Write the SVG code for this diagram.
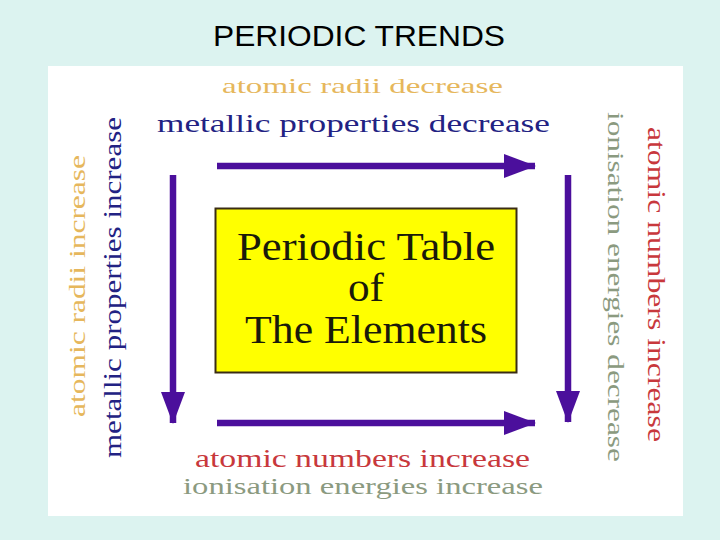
<svg xmlns="http://www.w3.org/2000/svg" width="720" height="540" viewBox="0 0 720 540">
<defs>
<marker id="ah" markerUnits="userSpaceOnUse" markerWidth="32" markerHeight="26" viewBox="0 0 32 26" refX="31" refY="13" orient="auto">
<path d="M0,1 L32,13 L0,25 Z" fill="#4b0f9c"/>
</marker>
<style>
.t{font-family:"Liberation Serif","Times New Roman",serif}
.arrow{stroke:#4b0f9c;stroke-width:6.5;fill:none;marker-end:url(#ah)}
.gold{fill:#e6b75c}
.navy{fill:#222283}
.red{fill:#c8383c}
.grey{fill:#8b9a80}
</style>
</defs>
<rect x="0" y="0" width="720" height="540" fill="#dcf3f0"/>
<text x="359" y="46" text-anchor="middle" font-family="Liberation Sans, Arial, sans-serif" font-size="30" textLength="292" lengthAdjust="spacingAndGlyphs" fill="#000">PERIODIC TRENDS</text>
<rect x="48" y="66" width="635" height="450" fill="#ffffff"/>
<g id="center">
<rect x="215.5" y="208.5" width="301" height="164" fill="#ffff00" stroke="#3a2c14" stroke-width="2"/>
<text class="t" transform="translate(366,260) scale(1.08,1)" text-anchor="middle" font-size="40" textLength="239" lengthAdjust="spacingAndGlyphs" fill="#1a1a0a">Periodic Table</text>
<text class="t" transform="translate(366,301) scale(1.08,1)" text-anchor="middle" font-size="40" fill="#1a1a0a">of</text>
<text class="t" transform="translate(366,343) scale(1.08,1)" text-anchor="middle" font-size="40" textLength="224" lengthAdjust="spacingAndGlyphs" fill="#1a1a0a">The Elements</text>
</g>
<g id="top-labels">
<text class="t gold" transform="translate(222,93) scale(1.5,1)" font-size="22" textLength="187.3" lengthAdjust="spacingAndGlyphs">atomic radii decrease</text>
<text class="t navy" transform="translate(157,132) scale(1.355,1)" font-size="26" textLength="290" lengthAdjust="spacingAndGlyphs">metallic properties decrease</text>
</g>
<g id="bottom-labels">
<text class="t red" transform="translate(195,467) scale(1.348,1)" font-size="25" textLength="248.5" lengthAdjust="spacingAndGlyphs">atomic numbers increase</text>
<text class="t grey" transform="translate(183,494) scale(1.416,1)" font-size="23" textLength="254.2" lengthAdjust="spacingAndGlyphs">ionisation energies increase</text>
</g>
<g id="left-labels">
<text class="t gold" transform="translate(85,417) rotate(-90) scale(1.31,1)" font-size="24" textLength="200" lengthAdjust="spacingAndGlyphs">atomic radii increase</text>
<text class="t navy" transform="translate(121,458) rotate(-90) scale(1.24,1)" font-size="25" textLength="275" lengthAdjust="spacingAndGlyphs">metallic properties increase</text>
</g>
<g id="right-labels">
<text class="t grey" transform="translate(608,112) rotate(90) scale(1.356,1)" font-size="23" textLength="258" lengthAdjust="spacingAndGlyphs">ionisation energies decrease</text>
<text class="t red" transform="translate(648,127) rotate(90) scale(1.27,1)" font-size="25" textLength="248" lengthAdjust="spacingAndGlyphs">atomic numbers increase</text>
</g>
<g id="connectors">
<line class="arrow" x1="217" y1="166" x2="535" y2="166"/>
<line class="arrow" x1="217" y1="423" x2="535" y2="423"/>
<line class="arrow" x1="173" y1="175" x2="173" y2="423"/>
<line class="arrow" x1="568" y1="175" x2="568" y2="422"/>
</g>
</svg>
